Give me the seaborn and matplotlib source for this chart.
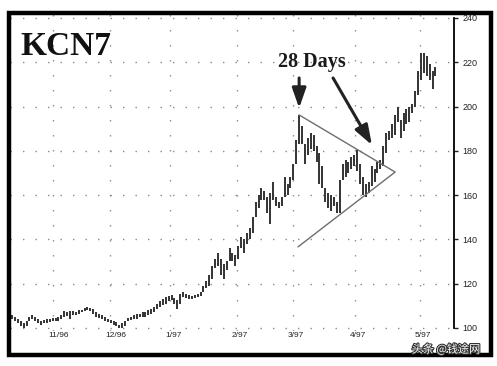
import numpy as np
import seaborn as sns
import matplotlib.pyplot as plt
import matplotlib.transforms as mtransforms
from matplotlib.patches import Rectangle
import matplotlib.patheffects as pe

# daily bars, KCN7 (coffee, July 97)
lows = [
    104, 103, 102, 101, 100, 101, 103, 104, 103, 102,
    101.5, 102, 102, 102.5, 103, 103, 103, 104, 105, 105.5,
    104, 106, 106, 106.5, 107, 107.5, 108, 107.5, 106.5, 105,
    104.5, 104, 103, 102.5, 102, 101.5, 101, 100, 100, 101,
    103, 103.5, 104, 104, 105, 105, 105, 106, 106.5, 107,
    108.5, 109.5, 110.5, 111, 112, 112.5, 111, 108.5, 111, 114,
    113.5, 113, 113, 113.5, 114, 114.5, 116, 118, 119, 122,
    127, 128, 124, 122, 126, 130, 130, 128, 131, 136,
    134, 138, 140, 143, 150, 154, 158, 158, 152, 147,
    158, 155, 154, 155, 159, 160, 163, 167, 174, 183,
    183, 174, 178, 181, 180, 175, 165, 163, 157, 154,
    153, 155, 152, 152, 167, 168, 170, 172, 173, 171,
    165, 160, 159, 161, 164, 166, 170, 172, 173, 179,
    185, 186, 187, 193, 186, 189, 192, 193, 197, 200,
    205, 212, 215, 214, 212, 208, 214]
highs = [
    106, 105, 104, 103, 102, 103, 105, 106, 105, 104,
    103, 103.5, 104, 104, 104.5, 104.5, 105, 106, 107.5, 107,
    107.5, 107.5, 107, 108, 108, 109, 109.5, 109, 108.5, 107,
    106.5, 106, 105, 104, 103.5, 103, 102.5, 101.5, 102, 103,
    104.5, 105, 106, 106.5, 106.5, 107, 107, 108, 108.5, 109.5,
    111, 112, 113, 114, 114.5, 115, 113.5, 112.5, 115.5, 116,
    115.5, 115, 114.5, 115, 115.5, 116, 119, 121, 124, 128,
    131, 134, 131, 129, 130, 136, 134, 133, 137, 141,
    140, 143, 145, 150, 157, 160, 163, 162, 159, 161,
    166, 159, 157, 159, 168, 165, 168, 174, 185, 196,
    191, 183, 186, 188, 187, 182, 179, 173, 163, 161,
    160, 159, 157, 167, 174, 176, 175, 177, 178, 180.5,
    174, 168, 165, 166, 173, 172, 175, 176, 182, 188,
    189, 192, 196, 200, 194, 197, 199, 200, 201, 207,
    216, 224, 224, 223, 219, 216, 218]

month_labels = ['11/96', '12/96', '1/97', '2/97', '3/97', '4/97', '5/97']
month_pos = [14.1, 33.8, 54.5, 77.6, 96.9, 118.3, 140.7]
price_ticks = [100, 120, 140, 160, 180, 200, 220, 240]

# symmetrical triangle drawn on the chart
tri_x = [99.0, 132.1, 98.6]
tri_y = [196.2, 170.4, 136.6]

sns.set_theme(style='white')
plt.rcParams['font.family'] = ['Liberation Sans', 'DejaVu Sans']

fig = plt.figure(figsize=(4.97, 3.66), dpi=100)
W, H = 497, 366
ax = fig.add_axes([10 / W, 35 / H, 444 / W, 317 / H])
ax.set_facecolor('white')

x = np.arange(len(highs))
ax.vlines(x, lows, highs, color='#333333', lw=1.4, zorder=3)
ax.plot(tri_x, tri_y, color='#6e6e6e', lw=1.0, zorder=4)

ax.set_xlim(-0.7, 152.4)
ax.set_ylim(98.6, 241.8)

# grid: dotted, like the old charting software
ax.set_yticks(price_ticks)
ax.set_xticks(month_pos)
ax.set_xticklabels(month_labels)
ax.yaxis.grid(True, linestyle=(0, (1, 8)), color='#8a8a8a', lw=1.0)
ax.xaxis.grid(True, linestyle=(0, (1, 9.8)), color='#8a8a8a', lw=1.0)
ax.set_axisbelow(True)

for s in ['top', 'left', 'bottom']:
    ax.spines[s].set_visible(False)
ax.spines['right'].set_bounds(100, 240)
ax.spines['right'].set_color('black')
ax.spines['right'].set_linewidth(1.3)
ax.yaxis.tick_right()
ax.tick_params(axis='y', direction='out', length=3, width=1, pad=3,
               labelsize=6.5, colors='#222222', right=True)
ax.tick_params(axis='x', length=0, pad=1, labelsize=6, colors='#222222')
offset = mtransforms.ScaledTranslation(-5 / 100, 0, fig.dpi_scale_trans)
for lab in ax.get_xticklabels():
    lab.set_horizontalalignment('left')
    lab.set_transform(lab.get_transform() + offset)

# arrows and labels
arrow = dict(arrowstyle='-|>,head_length=0.8,head_width=0.28', lw=2.2,
             color='#222222', mutation_scale=15, shrinkA=0, shrinkB=0)
ax.annotate('', xy=(99, 199.3), xytext=(99, 212.9), arrowprops=arrow, zorder=5)
ax.annotate('', xy=(124.1, 182.6), xytext=(110.7, 212.9), arrowprops=arrow, zorder=5)

fig.text(312 / W, 1 - 66.5 / H, '28 Days', ha='center', va='baseline',
         fontsize=14.5, fontweight='bold', family='Liberation Serif', color='#1a1a1a')
fig.text(20 / W, 1 - 55 / H, 'KCN7', ha='left', va='baseline',
         fontsize=24, fontweight='bold', family='Liberation Serif', color='#111111')

# outer frame
fig.add_artist(Rectangle((8.5 / W, 11.5 / H), 482.5 / W, 342 / H,
                         transform=fig.transFigure, fill=False,
                         lw=3.2, ec='black'))

fig.text(446 / W, 1 - 349 / H, '头条 @钱途网', ha='center', va='center',
         fontsize=8, color='white', family=['Noto Sans CJK SC', 'DejaVu Sans'],
         path_effects=[pe.withStroke(linewidth=1.6, foreground='#333333')])

fig.savefig('out.png', dpi=100)
